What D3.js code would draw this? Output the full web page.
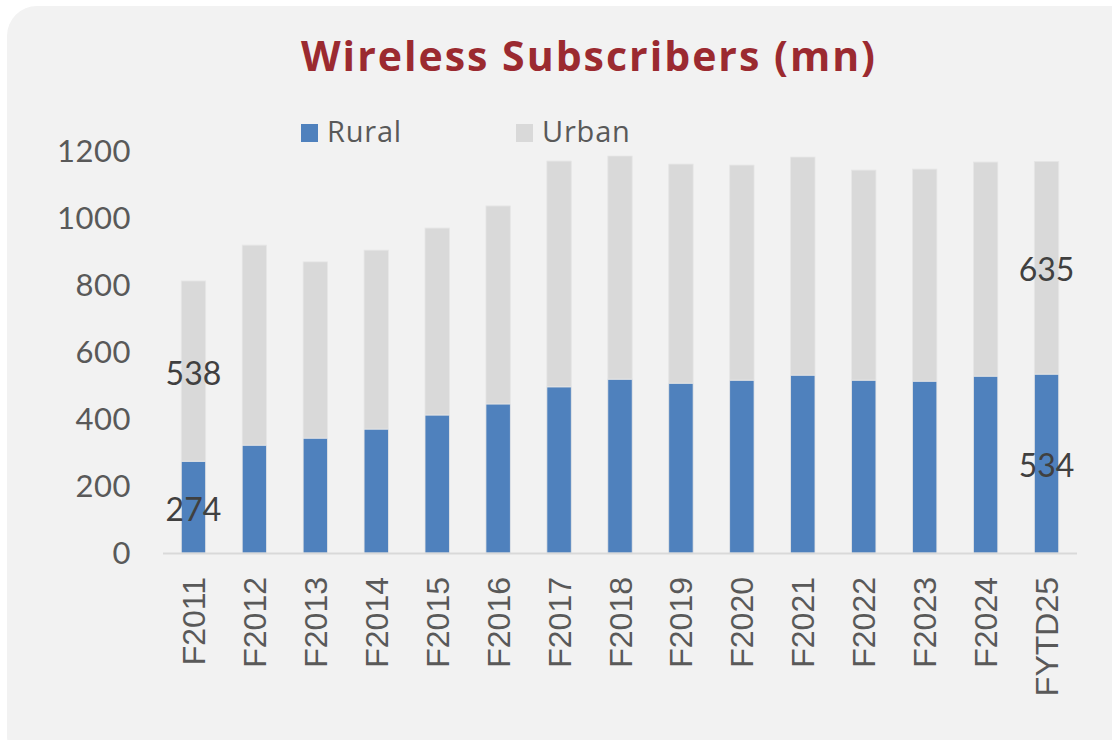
<!DOCTYPE html>
<html>
<head>
<meta charset="utf-8">
<script src="https://cdn.jsdelivr.net/npm/d3@7"></script>
<style>
  html, body { margin: 0; padding: 0; background: #ffffff; }
  svg { display: block; }
</style>
</head>
<body>
<div id="chart"></div>
<script>
'use strict';

// chart data
var years = ['F2011','F2012','F2013','F2014','F2015','F2016','F2017','F2018',
             'F2019','F2020','F2021','F2022','F2023','F2024','FYTD25'];
var rural = [274, 322, 343, 370, 412, 445, 496, 519, 507, 516, 531, 516, 513, 528, 534];
var urban = [538, 597, 526, 534, 558, 591, 674, 666, 654, 642, 651, 627, 633, 639, 635];
var yTicks = [0, 200, 400, 600, 800, 1000, 1200];
var seriesNames = ['Rural', 'Urban'];
var seriesColors = ['#4f81bd', '#d9d9d9'];

var width = 1112;
var height = 740;

var svg = d3.select('#chart')
            .append('svg')
            .attr('width', width)
            .attr('height', height);

// card background
svg.append('rect')
   .attr('x', 7).attr('y', 6)
   .attr('width', 1140).attr('height', 760)
   .attr('rx', 30).attr('ry', 30)
   .attr('fill', '#f2f2f2');

// title
svg.append('text')
   .attr('x', 589).attr('y', 71)
   .attr('text-anchor', 'middle')
   .attr('font-family', '"Open Sans", sans-serif')
   .attr('font-weight', 'bold')
   .attr('font-size', 41)
   .attr('letter-spacing', 2)
   .attr('fill', '#9b2a30')
   .text('Wireless Subscribers (mn)');

var x = d3.scaleBand()
          .domain(years)
          .range([163, 1077])
          .paddingInner(0.6)
          .paddingOuter(0.3);

var y = d3.scaleLinear()
          .domain([0, 1200])
          .range([553, 151]);

// stack the two series
var table = years.map(function(yr, i){
  return { year: yr, Rural: rural[i], Urban: urban[i] };
});
var stacked = d3.stack().keys(seriesNames)(table);

var groups = svg.selectAll('g.series').data(stacked)
   .enter().append('g')
   .attr('class', 'series')
   .attr('fill', function(d, i){ return seriesColors[i]; });

groups.selectAll('rect').data(function(d){ return d; })
   .enter().append('rect')
   .attr('x', function(d){ return x(d.data.year); })
   .attr('y', function(d){ return y(d[1]); })
   .attr('width', x.bandwidth())
   .attr('height', function(d){ return y(d[0]) - y(d[1]); })
   .attr('stroke', '#e6e6e6')
   .attr('stroke-width', 0.8);

// y axis (labels only)
var yAxis = d3.axisLeft(y).tickValues(yTicks).tickFormat(d3.format('d'))
              .tickSize(0).tickPadding(0);
var yg = svg.append('g')
   .attr('transform', 'translate(131,0)')
   .call(yAxis);
yg.select('.domain').remove();
yg.selectAll('text')
  .attr('font-family', 'Lato, sans-serif')
  .attr('font-size', 31)
  .attr('letter-spacing', 0.5)
  .attr('dy', '0.33em')
  .attr('fill', '#595959');

// x axis
var xAxis = d3.axisBottom(x).tickSize(0).tickPadding(0);
var xg = svg.append('g')
   .attr('transform', 'translate(0,' + y(0) + ')')
   .call(xAxis);
xg.select('.domain')
  .attr('d', 'M163,0.5H1077')
  .attr('stroke', '#d9d9d9')
  .attr('stroke-width', 2);
xg.selectAll('text')
  .attr('font-family', '"Liberation Sans", Arial, sans-serif')
  .attr('font-size', 32)
  .attr('fill', '#595959')
  .attr('text-anchor', 'end')
  .attr('transform', 'rotate(-90)')
  .attr('x', -24)
  .attr('y', 0)
  .attr('dy', '0.36em');

// legend
var legend = svg.selectAll('g.legend').data(seriesNames)
   .enter().append('g')
   .attr('class', 'legend')
   .attr('transform', function(d, i){ return 'translate(' + (301 + i * 215) + ',124)'; });
legend.append('rect')
   .attr('width', 17).attr('height', 18)
   .attr('fill', function(d, i){ return seriesColors[i]; });
legend.append('text')
   .attr('x', 26).attr('y', 18)
   .attr('font-family', '"Open Sans", sans-serif')
   .attr('font-size', 29)
   .attr('letter-spacing', 0.8)
   .attr('fill', '#595959')
   .text(function(d){ return d; });

// data labels on first and last bars only
var labelIdx = [0, years.length - 1];
var labels = [];
stacked.forEach(function(s){
  labelIdx.forEach(function(i){
    labels.push({ year: years[i], lo: s[i][0], hi: s[i][1], v: s[i][1] - s[i][0] });
  });
});
svg.selectAll('text.dlabel').data(labels)
   .enter().append('text')
   .attr('class', 'dlabel')
   .attr('x', function(d){ return x(d.year) + x.bandwidth() / 2; })
   .attr('y', function(d){ return (y(d.lo) + y(d.hi)) / 2; })
   .attr('dy', '0.42em')
   .attr('text-anchor', 'middle')
   .attr('font-family', 'Lato, sans-serif')
   .attr('font-size', 32)
   .attr('fill', '#404040')
   .text(function(d){ return d.v; });
</script>
</body>
</html>
